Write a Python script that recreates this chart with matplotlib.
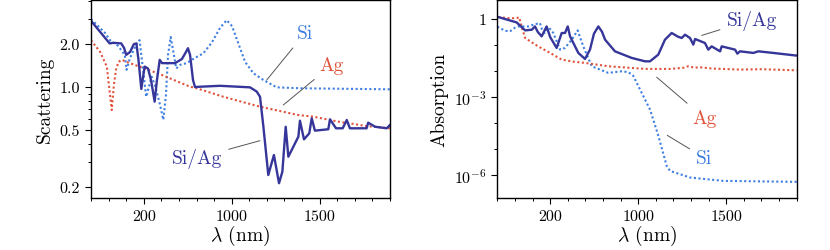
import numpy as np
import matplotlib
matplotlib.use('Agg')
import matplotlib.pyplot as plt
from matplotlib.ticker import FixedLocator, NullFormatter, LogLocator

plt.rcParams.update({'font.family': 'serif', 'font.serif': ['cmr10'],
                     'mathtext.fontset': 'cm', 'axes.unicode_minus': False})

# wavelength axis (nm) - non uniform, piecewise between the labelled ticks
lam_knots = [50, 200, 1000, 1500, 1900]
pos_knots = [0, 3, 8, 13, 17]

# ---- scattering ----
sca_siag_lam = [50, 103, 113, 136, 144, 150, 161, 172, 179, 185, 193, 208, 238, 266, 299, 320, 345, 366,
                484, 547, 584, 602, 621, 648, 666, 712, 893, 1104, 1142, 1161, 1180, 1208, 1240, 1269,
                1288, 1307, 1322, 1379, 1388, 1411, 1441, 1455, 1473, 1549, 1559, 1593, 1631, 1654, 1672,
                1767, 1776, 1815, 1881, 1900]
sca_siag = [2.91, 2.02, 2.04, 2.02, 1.88, 1.68, 1.76, 2.0, 2.02, 1.55, 0.97, 1.39, 1.35, 1.12, 0.79, 1.12,
            1.55, 1.47, 1.47, 1.57, 1.76, 1.87, 1.68, 1.12, 1.0, 1.005, 1.02, 0.995, 0.93, 0.855, 0.53,
            0.242, 0.334, 0.212, 0.255, 0.527, 0.325, 0.449, 0.581, 0.43, 0.474, 0.604, 0.495, 0.506,
            0.594, 0.514, 0.514, 0.588, 0.514, 0.514, 0.563, 0.527, 0.514, 0.542]

sca_si_lam = [50, 76, 90, 104, 127, 146, 151, 161, 178, 188, 198, 222, 272, 302, 348, 378, 402, 421, 445,
              466, 496, 530, 590, 666, 741, 821, 893, 954, 1002, 1047, 1076, 1123, 1180, 1256, 1388,
              1615, 1900]
sca_si = [2.99, 2.59, 2.39, 2.13, 1.94, 1.68, 1.32, 1.6, 1.97, 2.13, 1.32, 0.855, 1.18, 1.03, 0.75, 0.59,
          0.88, 1.68, 2.24, 1.82, 1.35, 1.43, 1.47, 1.6, 1.72, 2.06, 2.59, 2.94, 2.67, 1.88, 1.5, 1.25,
          1.12, 0.995, 0.98, 0.973, 0.964]

sca_ag_lam = [50, 76, 95, 101, 109, 115, 121, 128, 138, 151, 348, 621, 682, 923, 1161, 1377, 1464, 1616,
              1672, 1758, 1900]
sca_ag = [2.13, 1.76, 1.39, 1.03, 0.69, 1.03, 1.32, 1.5, 1.55, 1.5, 1.23, 1.005, 0.98, 0.855, 0.728,
          0.637, 0.62, 0.569, 0.557, 0.534, 0.514]

# ---- absorption ----
abs_siag_lam = [53, 105, 129, 148, 157, 165, 176, 190, 200, 259, 305, 335, 360, 381, 456, 517, 562, 598,
                638, 671, 699, 789, 941, 1039, 1067, 1114, 1152, 1190, 1226, 1247, 1266, 1294, 1313,
                1323, 1379, 1398, 1417, 1465, 1474, 1550, 1563, 1578, 1654, 1682, 1767, 1900]
abs_siag = [1.19, 0.741, 0.366, 0.389, 0.52, 0.318, 0.216, 0.52, 0.204, 0.0774, 0.291, 0.291, 0.52,
            0.216, 0.0498, 0.0293, 0.0667, 0.273, 0.52, 0.326, 0.161, 0.0574, 0.032, 0.0237, 0.0237,
            0.0429, 0.161, 0.291, 0.21, 0.187, 0.25, 0.187, 0.104, 0.171, 0.12, 0.0667, 0.089, 0.0574,
            0.089, 0.0667, 0.0468, 0.0574, 0.0498, 0.0574, 0.0498, 0.0393]

abs_ag_lam = [53, 86, 105, 112, 120, 129, 148, 166, 200, 305, 408, 517, 728, 1039, 1180, 1255, 1283,
              1320, 1351, 1420, 1578, 1700, 1900]
abs_ag = [1.19, 1.07, 1.09, 1.17, 0.464, 0.187, 0.127, 0.089, 0.0498, 0.0276, 0.0231, 0.0206, 0.0153,
          0.0121, 0.0121, 0.0133, 0.0153, 0.0135, 0.014, 0.0125, 0.0114, 0.0118, 0.0107]

abs_si_lam = [50, 72, 86, 100, 110, 138, 152, 171, 177, 185, 197, 229, 290, 335, 396, 450, 501, 578,
              653, 728, 850, 910, 954, 1001, 1067, 1112, 1162, 1181, 1294, 1483, 1900]
abs_si = [0.507, 0.356, 0.335, 0.464, 0.52, 0.52, 0.605, 0.703, 0.389, 0.291, 0.464, 0.291, 0.0667,
          0.0774, 0.161, 0.366, 0.089, 0.0153, 0.0114, 0.00853, 0.0098, 0.0091, 0.0067, 0.00262,
          3.35e-4, 3.69e-5, 2.25e-6, 1.45e-6, 8.09e-7, 6.0e-7, 5.5e-7]

c_siag = '#36369a'
c_si = '#3d7ee0'
c_ag = '#e0533c'
dot = (0, (1, 1.2))


def fwd(x):
    return np.interp(x, lam_knots, pos_knots)


def inv(p):
    return np.interp(p, pos_knots, lam_knots)


def setup_x(ax):
    ax.set_xscale('function', functions=(fwd, inv))
    ax.set_xlim(50, 1900)
    ax.set_xticks([200, 1000, 1500], ['200', '1000', '1500'])
    ax.xaxis.set_minor_locator(FixedLocator(inv(np.arange(0, 18))))
    ax.set_xlabel(r'$\lambda$ (nm)', fontsize=14, labelpad=0)
    ax.tick_params(which='major', length=4, width=0.8, labelsize=11.5, pad=4)
    ax.tick_params(which='minor', length=2.2, width=0.7)
    for s in ax.spines.values():
        s.set_linewidth(1.0)


fig = plt.figure(figsize=(8.3, 2.51), dpi=100)
ax1 = fig.add_axes([91 / 830, 1 - 199 / 251, 299 / 830, 198 / 251])
ax2 = fig.add_axes([497.3 / 830, 1 - 199 / 251, 299.4 / 830, 198 / 251])

ax1.plot(sca_si_lam, sca_si, color=c_si, lw=1.5, ls=dot)
ax1.plot(sca_ag_lam, sca_ag, color=c_ag, lw=1.5, ls=dot)
ax1.plot(sca_siag_lam, sca_siag, color=c_siag, lw=1.7)
setup_x(ax1)
ax1.set_yscale('log')
ax1.set_ylim(0.167, 4.07)
ax1.set_yticks([0.2, 0.5, 1.0, 2.0], ['0.2', '0.5', '1.0', '2.0'])
ax1.yaxis.set_minor_locator(LogLocator(subs=np.arange(2, 10)))
ax1.yaxis.set_minor_formatter(NullFormatter())
ax1.set_ylabel('Scattering', fontsize=14)

lk = dict(arrowstyle='-', color='#555555', lw=0.7, shrinkA=3, shrinkB=0)
ax1.annotate('Si', xy=(1199, 1.12), xytext=(1417, 2.39), color=c_si, fontsize=14,
             ha='center', va='center', arrowprops=lk)
ax1.annotate('Ag', xy=(1293, 0.748), xytext=(1569, 1.426), color=c_ag, fontsize=14,
             ha='center', va='center', arrowprops=lk)
ax1.annotate('Si/Ag', xy=(1161, 0.421), xytext=(682, 0.318), color=c_siag, fontsize=14,
             ha='center', va='center', arrowprops=lk)

ax2.plot(abs_si_lam, abs_si, color=c_si, lw=1.5, ls=dot)
ax2.plot(abs_ag_lam, abs_ag, color=c_ag, lw=1.5, ls=dot)
ax2.plot(abs_siag_lam, abs_siag, color=c_siag, lw=1.7)
setup_x(ax2)
ax2.set_yscale('log')
ax2.set_ylim(10 ** -6.88, 5.4)
ax2.set_yticks([1, 1e-3, 1e-6], ['1', r'$10^{-3}$', r'$10^{-6}$'])
ax2.yaxis.set_minor_locator(FixedLocator([1e-1, 1e-2, 1e-4, 1e-5]))
ax2.yaxis.set_minor_formatter(NullFormatter())
ax2.set_ylabel('Absorption', fontsize=14)

ax2.annotate('Si/Ag', xy=(1361, 0.235), xytext=(1645, 0.94), color=c_siag, fontsize=14,
             ha='center', va='center', arrowprops=lk)
ax2.annotate('Ag', xy=(1105, 5.8e-3), xytext=(1374, 1.61e-4), color=c_ag, fontsize=14,
             ha='center', va='center', arrowprops=lk)
ax2.annotate('Si', xy=(1165, 3.38e-5), xytext=(1374, 4.72e-6), color=c_si, fontsize=14,
             ha='center', va='center', arrowprops=lk)

fig.savefig('out.png', dpi=100)
